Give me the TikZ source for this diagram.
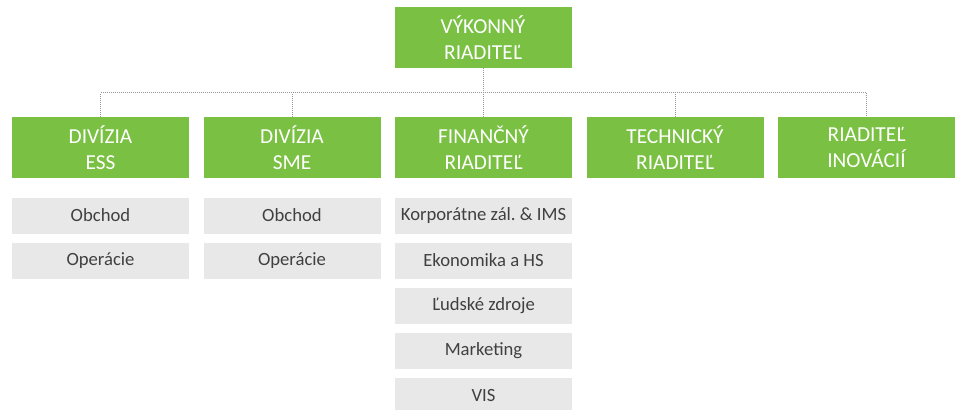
\documentclass[tikz,border=0pt]{standalone}
\usepackage{fontspec}
\setmainfont{Carlito}
\definecolor{green}{RGB}{122, 193, 67}
\definecolor{boxgray}{RGB}{232, 232, 232}
\definecolor{textgray}{RGB}{64, 64, 64}
\definecolor{linegray}{RGB}{150, 150, 150}

\begin{document}
\begin{tikzpicture}[x=0.75pt, y=-0.75pt,
    head/.style={fill=green, text=white, minimum width=132.75pt, minimum height=45.75pt, inner sep=0pt, align=center, font=\fontsize{16}{19}\selectfont},
    item/.style={fill=boxgray, text=textgray, minimum width=132.75pt, minimum height=27pt, inner sep=0pt, font=\fontsize{14}{17}\selectfont},
    link/.style={linegray, line width=0.75pt, dash pattern=on 0.75pt off 0.75pt}]
\useasboundingbox (0,0) rectangle (957,410);

\node[head] (ceo) at (483,37.5) {VÝKONNÝ\\RIADITEĽ};
\foreach \i/\n/\t in {0/ess/DIVÍZIA\\ESS, 1/sme/DIVÍZIA\\SME, 2/fin/FINANČNÝ\\RIADITEĽ, 3/tech/TECHNICKÝ\\RIADITEĽ, 4/inov/RIADITEĽ\\INOVÁCIÍ}{
    \node[head] (\n) at (100.5+191.5*\i,147.5) {\t};
}

% Dotted connectors
\coordinate (bus) at (483,93);
\draw[link] (ceo) -- (ceo |- bus);
\draw[link] (ess.north) -- (ess.north |- bus) -- (inov.north |- bus) -- (inov.north);
\foreach \n in {sme, fin, tech}{
    \draw[link] (\n.north) -- (\n.north |- bus);
}

% Departments
\foreach \j/\t in {0/Obchod, 1/Operácie}{
    \node[item] (ess\j) at (100.5,215.5+45*\j) {\t};
    \node[item] (sme\j) at (292,215.5+45*\j) {\t};
}
\foreach \j/\t in {0/Korporátne zál.\ \& IMS, 1/Ekonomika a HS, 2/Ľudské zdroje, 3/Marketing, 4/VIS}{
    \node[item] (fin\j) at (483.5,215.5+45*\j) {\t};
}

\end{tikzpicture}
\end{document}
